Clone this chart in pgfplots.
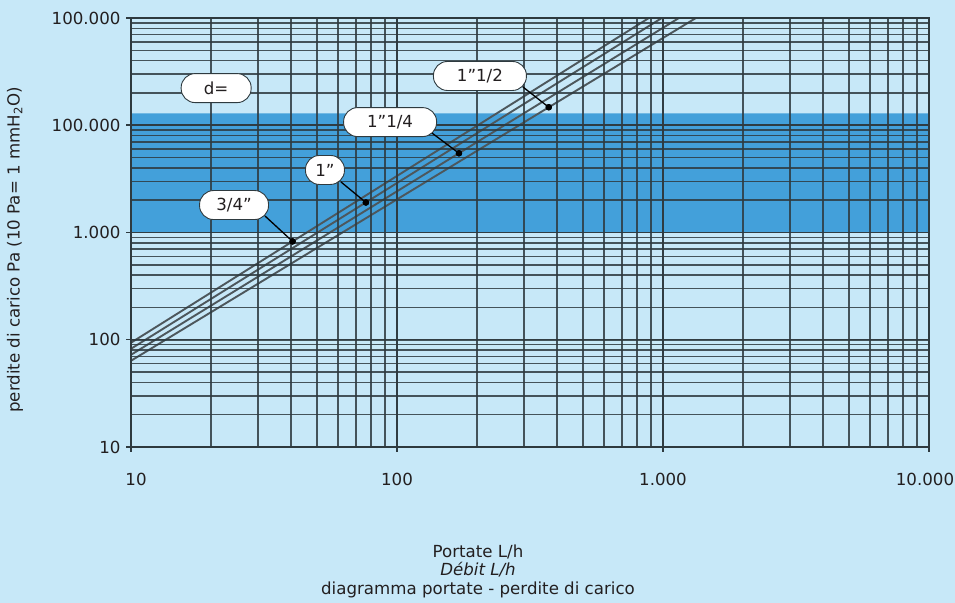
\documentclass[border=0pt]{standalone}
\usepackage{fontspec}
\setmainfont{DejaVu Sans}
\usepackage{pgfplots}
\pgfplotsset{compat=1.18}
\definecolor{bg}{HTML}{C7E8F8}
\definecolor{band}{HTML}{43A0DA}
\definecolor{gridc}{HTML}{2E3A3F}
\definecolor{txt}{HTML}{231F20}
\newcommand{\fs}{\fontsize{16.7}{19}\selectfont}
\tikzset{lbl/.style={draw=gridc, line width=0.9bp, fill=white, rounded corners=14bp, minimum height=29bp, font=\fs, text=txt}}
\begin{document}
\begin{tikzpicture}
\fill[bg] (0,0) rectangle (955bp,603bp);
\useasboundingbox (0,0) rectangle (955bp,603bp);
\begin{axis}[
  at={(131bp,156bp)}, anchor=south west,
  scale only axis, width=798bp, height=429bp,
  xmode=log, ymode=log,
  xmin=10, xmax=10000, ymin=10, ymax=100000,
  xtick={10,100,1000,10000}, xticklabels={\hspace*{10bp}10,100,1.000,\hspace*{-8bp}10.000},
  ytick={10,100,1000,10000,100000}, yticklabels={10,100,1.000,100.000,100.000},
  grid=both, axis on top,
  xtick pos=bottom, ytick pos=left,
  major grid style={gridc, opacity=0.85, line width=1.6bp},
  minor grid style={gridc, opacity=0.85, line width=1.5bp},
  axis line style={gridc, line width=1.8bp},
  tick align=outside, major tick length=5bp, minor tick length=0pt,
  tick style={gridc, line width=1.5bp},
  ticklabel style={font=\fs, text=txt},
  xticklabel style={yshift=-18bp},
  yticklabel style={xshift=-2bp},
]
\addplot[fill=band, draw=none] coordinates {(10,1000) (10000,1000) (10000,12900) (10,12900) (10,1000)};
\addplot[gridc!85, line width=1.9bp] coordinates {(10,93.8) (885,100000)};
\addplot[gridc!85, line width=1.9bp] coordinates {(10,82.4) (990,100000)};
\addplot[gridc!85, line width=1.9bp] coordinates {(10,72.4) (1148,100000)};
\addplot[gridc!85, line width=1.9bp] coordinates {(10,63.7) (1330,100000)};
\addplot[only marks, mark=*, mark size=3bp, black] coordinates {(40.5,826) (76.4,1905) (171,5480) (372,14720)};
\coordinate (d1) at (axis cs:40.5,826);
\coordinate (d2) at (axis cs:76.4,1905);
\coordinate (d3) at (axis cs:171,5480);
\coordinate (d4) at (axis cs:372,14720);
\coordinate (c0) at (axis cs:20.9,22200);
\coordinate (c1) at (axis cs:24.4,1803);
\coordinate (c2) at (axis cs:53.6,3830);
\coordinate (c3) at (axis cs:94.2,10700);
\coordinate (c4) at (axis cs:205,28800);
\end{axis}
\node[lbl, minimum width=70bp] at (c0) {d=};
\node[lbl, minimum width=69bp] (b1) at (c1) {3/4”};
\node[lbl, minimum width=39bp, inner xsep=2bp] (b2) at (c2) {1”};
\node[lbl, minimum width=93bp] (b3) at (c3) {1”1/4};
\node[lbl, minimum width=93bp] (b4) at (c4) {1”1/2};
\draw[black, line width=1.3bp] ([xshift=-4bp,yshift=4bp]b1.south east) -- (d1);
\draw[black, line width=1.3bp] ([xshift=-4bp,yshift=3bp]b2.south east) -- (d2);
\draw[black, line width=1.3bp] ([xshift=-5bp,yshift=4bp]b3.south east) -- (d3);
\draw[black, line width=1.3bp] ([xshift=-4bp,yshift=4bp]b4.south east) -- (d4);
\fill[black] (d1) circle (3.2bp) (d2) circle (3.2bp) (d3) circle (3.2bp) (d4) circle (3.2bp);
\node[rotate=90, font=\fs, text=txt] at (15bp,353bp) {perdite di carico Pa (10 Pa= 1 mmH\textsubscript{2}O)};
\node[font=\fs, text=txt] at (478bp,51bp) {Portate L/h};
\node[font=\fs\itshape, text=txt] at (478bp,33bp) {Débit L/h};
\node[font=\fs, text=txt] at (478bp,13bp) {diagramma portate - perdite di carico};
\end{tikzpicture}
\end{document}
